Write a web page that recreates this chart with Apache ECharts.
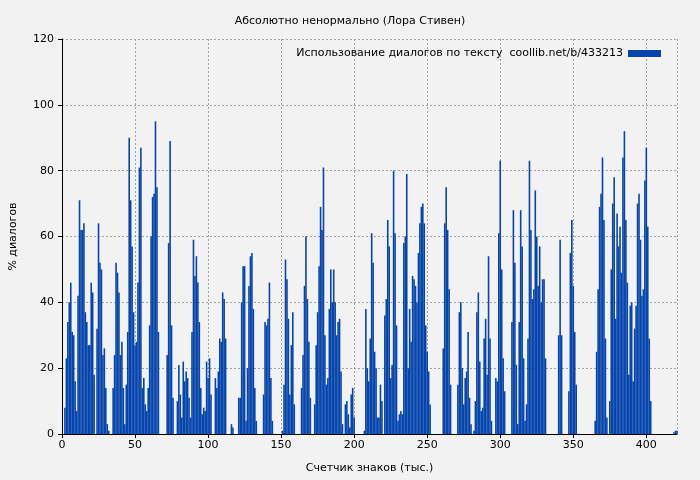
<!DOCTYPE html>
<html>
<head>
<meta charset="utf-8">
<script src="https://cdn.jsdelivr.net/npm/echarts@6/dist/echarts.min.js"></script>
<style>
  html, body { margin: 0; padding: 0; background: #f2f2f2; }
  #chart { width: 700px; height: 480px; }
</style>
</head>
<body>
<div id="chart"></div>
<script>
// share of dialogue per 1000 characters, index = thousands of characters
const dialogShare = [
  0,0,8,23,34,40,46,31,30,16,
  7,42,71,62,62,64,37,34,27,27,
  46,43,18,0,32,64,52,50,24,26,
  14,3,1,0,0,14,24,52,49,43,
  24,28,14,3,15,31,90,71,57,37,
  27,28,46,81,87,14,17,9,7,14,
  33,60,72,73,95,75,31,0,0,0,
  0,0,24,58,89,33,11,0,0,10,
  21,12,5,22,16,19,17,11,5,31,
  59,48,54,46,34,14,6,8,7,22,
  17,23,12,0,0,17,14,19,29,28,
  43,41,29,0,0,0,3,2,0,0,
  0,11,11,40,51,51,4,20,45,54,
  55,38,14,4,0,0,0,0,12,34,
  33,35,46,17,4,0,0,0,0,0,
  0,1,15,53,47,35,12,27,37,9,
  0,0,0,0,14,24,45,60,41,28,
  11,0,0,9,27,37,51,69,62,81,
  30,15,17,38,50,40,50,40,30,34,
  35,19,3,0,9,10,6,2,12,14,
  5,0,0,0,0,0,0,1,38,20,
  16,29,61,52,25,20,5,5,15,10,
  0,36,41,65,57,17,21,80,61,33,
  4,6,7,6,58,60,79,20,38,28,
  48,47,45,40,55,64,69,70,64,33,
  25,19,9,0,0,0,0,0,0,0,
  0,26,64,75,62,44,15,0,0,0,
  0,15,37,40,20,9,17,19,31,11,
  3,0,1,10,37,43,22,7,8,29,
  35,18,54,29,4,0,0,17,16,61,
  83,50,23,13,0,0,0,0,34,68,
  52,21,3,34,68,57,23,4,9,29,
  83,62,41,44,74,60,45,57,40,47,
  47,23,0,0,0,0,0,0,0,0,
  30,59,30,0,0,0,0,13,55,65,
  45,31,15,0,0,0,0,0,0,0,
  0,0,0,0,0,4,25,44,69,73,
  84,65,29,5,0,10,50,70,78,35,
  67,57,63,49,84,92,65,46,18,39,
  40,16,32,39,70,73,59,42,44,77,
  87,63,29,10
];
const tailChars = [419, 420, 421];
const tailShare = [0.5, 1, 1];

const seriesLabel = 'Использование диалогов по тексту  coollib.net/b/433213';

const points = dialogShare.map((v, i) => [i, v])
  .concat(tailChars.map((x, i) => [x, tailShare[i]]));

const chart = echarts.init(document.getElementById('chart'));
const font = 'DejaVu Sans';
const dotted = { color: '#a0a0a0', type: [2, 2], width: 1 };

chart.setOption({
  backgroundColor: '#f2f2f2',
  animation: false,
  textStyle: { fontFamily: font },
  title: {
    text: 'Абсолютно ненормально (Лора Стивен)',
    left: 'center', top: 11,
    textStyle: { fontSize: 11, fontWeight: 'normal', color: '#000', fontFamily: font }
  },
  legend: {
    right: 34, top: 43,
    itemWidth: 33, itemHeight: 7, itemGap: 6,
    align: 'right',
    textStyle: { fontSize: 11, color: '#000', fontFamily: font },
    data: [{ name: seriesLabel, icon: 'rect' }]
  },
  grid: { left: 62, right: 23, top: 39, bottom: 46 },
  xAxis: {
    type: 'value', min: 0, max: 421, interval: 50,
    name: 'Счетчик знаков (тыс.)', nameLocation: 'middle', nameGap: 29,
    nameTextStyle: { fontSize: 11, color: '#000' },
    axisLine: { lineStyle: { color: '#000' } },
    axisTick: { lineStyle: { color: '#000' }, length: 4 },
    axisLabel: { fontSize: 11, color: '#000', showMaxLabel: false, margin: 6 },
    splitLine: { show: true, lineStyle: dotted }
  },
  yAxis: {
    type: 'value', min: 0, max: 120, interval: 20,
    name: '% диалогов', nameLocation: 'middle', nameGap: 43,
    nameTextStyle: { fontSize: 11, color: '#000' },
    axisLine: { show: true, lineStyle: { color: '#000' } },
    axisTick: { show: true, lineStyle: { color: '#000' }, length: 4 },
    axisLabel: { fontSize: 11, color: '#000', margin: 8 },
    splitLine: { show: true, lineStyle: dotted }
  },
  series: [{
    name: seriesLabel,
    type: 'bar',
    data: points,
    barWidth: 1.6,
    itemStyle: { color: '#0645ad' }
  }]
});
</script>
</body>
</html>
